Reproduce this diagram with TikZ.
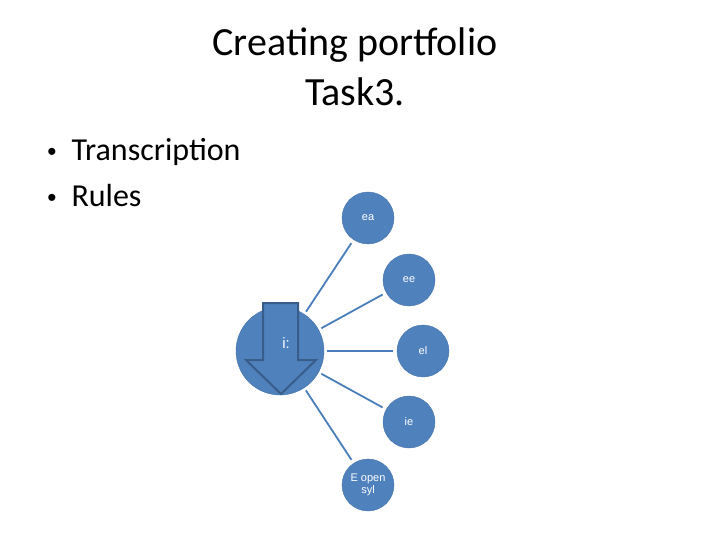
\documentclass[tikz,border=0pt]{standalone}
\usepackage{fontspec}
\setmainfont{Carlito}
\newfontfamily\labelfont{Liberation Sans}
\definecolor{officeblue}{HTML}{4F81BD}
\definecolor{officeedge}{HTML}{385D8A}
\definecolor{linkblue}{HTML}{4A7EBB}
\begin{document}
\begin{tikzpicture}[
        x=1pt, y=-1pt,
        hub/.style={circle, fill=officeblue, draw=officeblue!90!black, thin, minimum size=88pt, inner sep=0pt},
        spoke/.style={circle, fill=officeblue, draw=officeblue!90!black, thin, minimum size=52pt, inner sep=0pt, text=white, font=\labelfont\fontsize{11}{12.5}\selectfont, align=center},
        link/.style={draw=linkblue, line width=1.8pt, shorten <=3pt, shorten >=4pt},
        blockarrow/.style={fill=officeblue, draw=officeedge, line width=2pt, line join=miter},
        heading/.style={anchor=base, font=\fontsize{40}{44}\selectfont},
        item/.style={anchor=base west, font=\fontsize{32}{36}\selectfont},
        dot/.style={anchor=base, font=\labelfont\fontsize{26}{30}\selectfont}
        ]
        \useasboundingbox (0,0) rectangle (720,540);

        % Title
        \node[heading] (title) at (355,56) {Creating portfolio};
        \node[heading] (task) at (355,106) {Task3.};

        % Bullet list
        \node[dot] (bulletA) at (52,161) {•};
        \node[item] (transcription) at (68,161) {Transcription};
        \node[dot] (bulletB) at (52,207) {•};
        \node[item] (rules) at (68,207) {Rules};

        % Centre circle with block arrow
        \node[hub] (long) at (280,351) {};
        \draw[blockarrow] (263,303) -- (298,303) -- (298,360) -- (316,360) -- (281,394)
            -- (246,360) -- (263,360) -- cycle;
        \node[text=white, font=\labelfont\fontsize{15}{17}\selectfont] (sound) at (286,343) {i:};

        % Spelling circles
        \node[spoke] (ea) at (368,218) {ea};
        \node[spoke] (ee) at (409,280) {ee};
        \node[spoke] (el) at (423,351) {el};
        \node[spoke] (ie) at (409,422) {ie};
        \node[spoke] (eopen) at (368,485) {E open\\syl};

        % Links
        \draw[link] (long) -- (ea);
        \draw[link] (long) -- (ee);
        \draw[link] (long) -- (el);
        \draw[link] (long) -- (ie);
        \draw[link] (long) -- (eopen);

    \end{tikzpicture}
\end{document}
